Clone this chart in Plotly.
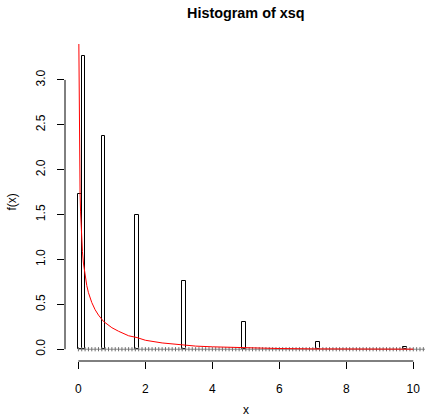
import numpy as np
import plotly.graph_objects as go

# Histogram of xsq (density scale), bins of width 0.1
bin_left = [0.0, 0.1, 0.7, 1.7, 3.1, 4.9, 7.1, 9.7]
density = [1.73, 3.27, 2.38, 1.50, 0.76, 0.30, 0.08, 0.03]
bin_width = 0.1
break_start, break_stop = 0.0, 10.8

# Chi-square (1 df) density curve overlaid in red
curve_x = [0.0136, 0.02, 0.03, 0.04, 0.05, 0.065, 0.08, 0.1, 0.12, 0.15, 0.2, 0.25,
           0.3, 0.4, 0.5, 0.6, 0.75, 0.9, 1.0, 1.2, 1.5, 1.75, 2.0, 2.5, 3.0,
           3.5, 4.0, 5.0, 6.0, 7.0, 8.0, 9.0, 10.0]
curve_y = [3.40, 2.80, 2.28, 1.97, 1.74, 1.53, 1.36, 1.20, 1.09, 0.96, 0.81, 0.71,
           0.63, 0.52, 0.44, 0.38, 0.31, 0.27, 0.24, 0.20, 0.15, 0.13, 0.10, 0.07, 0.05,
           0.035, 0.027, 0.015, 0.008, 0.004, 0.0025, 0.0014, 0.0009]

x_ticks = [0, 2, 4, 6, 8, 10]
y_ticks = [0.0, 0.5, 1.0, 1.5, 2.0, 2.5, 3.0]

FONT = "Liberation Sans, Arial, Helvetica, sans-serif"

breaks = np.round(np.arange(break_start, break_stop + 1e-9, bin_width), 1)
bar_centers = [b + bin_width / 2 for b in bin_left]

fig = go.Figure()

# empty bins collapse onto the baseline
fig.add_trace(go.Scatter(
    x=[breaks[0], breaks[-1]], y=[0, 0], mode="lines",
    line=dict(color="#8a8a8a", width=1), hoverinfo="skip", showlegend=False,
))
fig.add_trace(go.Scatter(
    x=breaks, y=[0] * len(breaks), mode="markers",
    marker=dict(symbol="line-ns", size=3, line=dict(color="#6e6e6e", width=1)),
    hoverinfo="skip", showlegend=False,
))

fig.add_trace(go.Bar(
    x=bar_centers, y=density, width=bin_width, base=0,
    marker=dict(color="rgba(0,0,0,0)", line=dict(color="black", width=1)),
    showlegend=False,
))

fig.add_trace(go.Scatter(
    x=curve_x, y=curve_y, mode="lines",
    line=dict(color="red", width=1), showlegend=False,
))

# axis lines span only the tick range
fig.add_shape(type="line", xref="x", yref="paper", x0=x_ticks[0], x1=x_ticks[-1],
              y0=0, y1=0, line=dict(color="black", width=1))
fig.add_shape(type="line", xref="paper", yref="y", x0=0, x1=0,
              y0=y_ticks[0], y1=y_ticks[-1], line=dict(color="black", width=1))

fig.add_annotation(text="<b>Histogram of xsq</b>", xref="x", yref="paper",
                   x=5, y=1, yshift=31, xanchor="center", yanchor="middle",
                   showarrow=False, font=dict(family=FONT, size=14.4, color="black"))
fig.add_annotation(text="x", xref="x", yref="paper", x=5, y=0, yshift=-58,
                   xanchor="center", yanchor="bottom", showarrow=False,
                   font=dict(family=FONT, size=12, color="black"))
fig.add_annotation(text="f(x)", xref="paper", yref="y", x=0, y=1.635, xshift=-53,
                   xanchor="center", yanchor="middle", textangle=-90, showarrow=False,
                   font=dict(family=FONT, size=12, color="black"))

fig.update_layout(
    width=425, height=419,
    margin=dict(l=65, r=0, t=44, b=58),
    paper_bgcolor="white", plot_bgcolor="white",
    font=dict(family=FONT, size=12, color="black"),
    bargap=0,
    xaxis=dict(range=[-0.4, 10.35], tickvals=x_ticks, ticks="outside", ticklen=7,
               tickcolor="black", showgrid=False, zeroline=False, showline=False,
               ticklabelstandoff=10,
               tickfont=dict(family=FONT, size=12, color="black")),
    yaxis=dict(range=[-0.131, 3.40], tickvals=y_ticks, tickformat=".1f",
               ticks="outside", ticklen=7, tickcolor="black", tickangle=-90,
               ticklabelstandoff=7,
               showgrid=False, zeroline=False, showline=False,
               tickfont=dict(family=FONT, size=12, color="black")),
)

fig.write_html("out.html")
